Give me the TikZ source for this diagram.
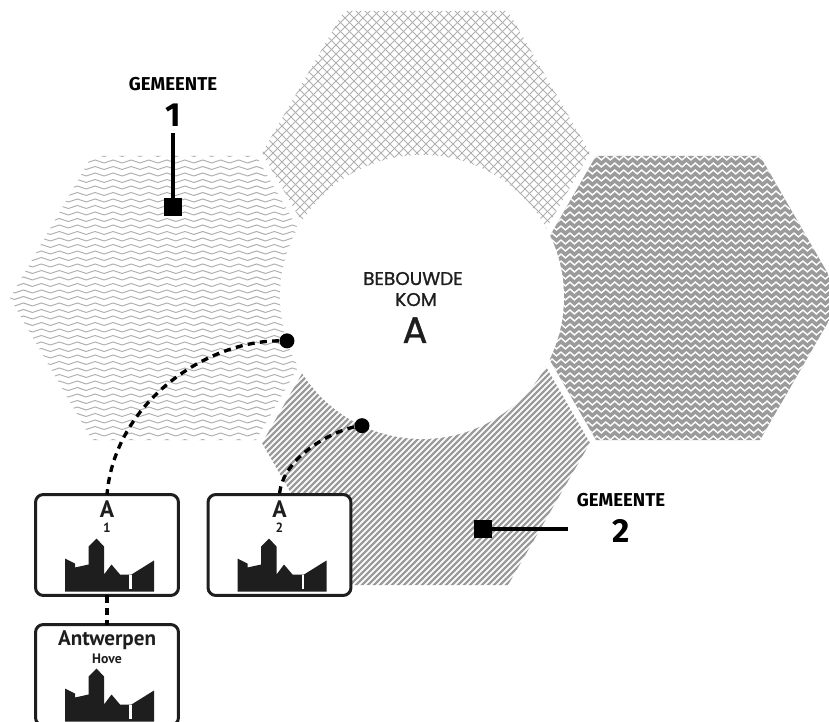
\documentclass[tikz,border=0pt]{standalone}
\usepackage{fontspec}
\setmainfont{Fira Sans}
\newfontfamily\komfont[FakeBold=1.2]{Poppins}
\newfontfamily\signfont{PT Sans}
\usetikzlibrary{positioning,decorations.pathmorphing}

\definecolor{lightline}{HTML}{AFAFAF}
\definecolor{midgray}{HTML}{9B9B9B}
\definecolor{ink}{HTML}{1E1E1E}

\newcommand\hexagon[1]{(#1) +(0:164) -- +(60:164) -- +(120:164) -- +(180:164) -- +(240:164) -- +(300:164) -- cycle}

\tikzset{
    skyline/.pic={
        \fill[ink] (-42,97) -- (-42,64) -- (-32,69) -- (-32,73) -- (-18.5,70) -- (-18.5,52) -- (-10.5,44)
            -- (-3,52) -- (-3,80) -- (4.5,70) -- (13,80) -- (24.5,80) -- (47,66) -- (47,97) -- cycle;
        \fill[white] (22.2,80) rectangle (24.5,94);
    }
}

\begin{document}
\begin{tikzpicture}[x=0.02cm, y=-0.02cm,
    hatch/.style={lightline, line width=0.45pt},
    wave/.style={lightline, line width=0.55pt, decorate, decoration={snake, amplitude=0.85pt, segment length=10.2pt}},
    zig/.style={white, line width=0.8pt, decorate, decoration={zigzag, amplitude=1.1pt, segment length=5.1pt}},
    stripe/.style={midgray, line width=1.3pt},
    gemtitle/.style={font=\fontsize{10.6}{12}\selectfont\bfseries, anchor=base, inner sep=0},
    gemnum/.style={font=\fontsize{19}{20}\selectfont\bfseries, anchor=base, inner sep=0},
    komtext/.style={font=\komfont\fontsize{10.5}{12}\selectfont, text=ink, anchor=base, inner sep=0},
    komletter/.style={font=\komfont\fontsize{21}{22}\selectfont, text=ink, anchor=base, inner sep=0},
    blok/.style={rectangle, fill=black, minimum size=0.36cm, inner sep=0},
    pointdot/.style={circle, fill=black, minimum size=0.3cm, inner sep=0},
    pointer/.style={line width=1.8pt},
    link/.style={line width=1.9pt, dash pattern=on 4pt off 3pt},
    sign/.style={rectangle, draw=ink, fill=white, line width=1.7pt, rounded corners=4.5pt,
        minimum width=2.86cm, minimum height=2.02cm, inner sep=0, outer sep=0},
    signletter/.style={font=\signfont\fontsize{13.5}{14}\selectfont\bfseries, text=ink, anchor=base, inner sep=0},
    signsub/.style={font=\signfont\fontsize{7.6}{8}\selectfont\bfseries, text=ink, anchor=base, inner sep=0},
    signname/.style={font=\signfont\fontsize{12}{13}\selectfont\bfseries, text=ink, anchor=base, inner sep=0},
    signplace/.style={font=\signfont\fontsize{7.8}{8}\selectfont\bfseries, text=ink, anchor=base, inner sep=0}]
    \useasboundingbox (0,0) rectangle (829,722);
    \clip (0,0) rectangle (829,722);

    \begin{scope}
        \clip \hexagon{426,153};
        \foreach \k in {-36,...,36}
            \draw[hatch] ({126+9*\k},453) -- ++(600,-600) ({126+9*\k},-147) -- ++(600,600);
    \end{scope}
    \begin{scope}
        \clip \hexagon{174,298};
        \foreach \k in {-22,...,22}
            \draw[wave] (0,{298+6.5*\k}) -- (350,{298+6.5*\k});
    \end{scope}
    \begin{scope}
        \clip \hexagon{678,298};
        \fill[midgray] (500,120) rectangle (850,470);
        \foreach \k in {-21,...,21}
            \draw[zig] (505,{298+7*\k}) -- (850,{298+7*\k});
    \end{scope}
    \begin{scope}
        \clip \hexagon{426,443};
        \foreach \k in {-52,...,52}
            \draw[stripe] ({126+6*\k},743) -- ++(600,-600);
    \end{scope}

    \node[circle, fill=white, minimum size=5.68cm, inner sep=0, outer sep=0] (kom) at (422,297) {};
    \node[komtext] (bebouwd) at (413,285) {BEBOUWDE};
    \node[komtext] (komword) at (416,306) {KOM};
    \node[komletter] (komA) at (415,343) {A};

    \node[gemtitle] (gem1) at (173,91) {GEMEENTE};
    \node[gemnum] (num1) at (173,127) {1};
    \node[blok] (sq1) at (173,207) {};
    \draw[pointer, shorten <=3.4pt] (num1.south) -- (sq1.center);

    \node[gemtitle] (gem2) at (621,507) {GEMEENTE};
    \node[gemnum] (num2) at (621,543) {2};
    \node[blok] (sq2) at (483,529) {};
    \coordinate (end2) at (568,529);
    \draw[pointer] (sq2.center) -- (end2);

    \node[sign] (s1) at (107,545) {};
    \node[sign] (s2) at (279.5,545) {};
    \node[sign] (s3) at (107,675) {};
    \foreach \s in {s1,s2,s3}
        \pic at (\s.north) {skyline};
    \node[signletter] (a1) at (107,518) {A};
    \node[signsub] (n1) at (107,533) {1};
    \node[signletter] (a2) at (279.5,518) {A};
    \node[signsub] (n2) at (279.5,533) {2};
    \node[signname] (city) at (107,646) {Antwerpen};
    \node[signplace] (part) at (107,664) {Hove};

    \node[pointdot] (d1) at (kom.198) {};
    \node[pointdot] (d2) at (kom.245) {};
    \draw[link] (d1) .. controls +(-80,0) and +(8,-93) .. (s1.north);
    \draw[link] (d2) .. controls +(-28,5) and +(3,-38) .. (s2.north);
    \draw[link] (s1) -- (s3);
\end{tikzpicture}
\end{document}
